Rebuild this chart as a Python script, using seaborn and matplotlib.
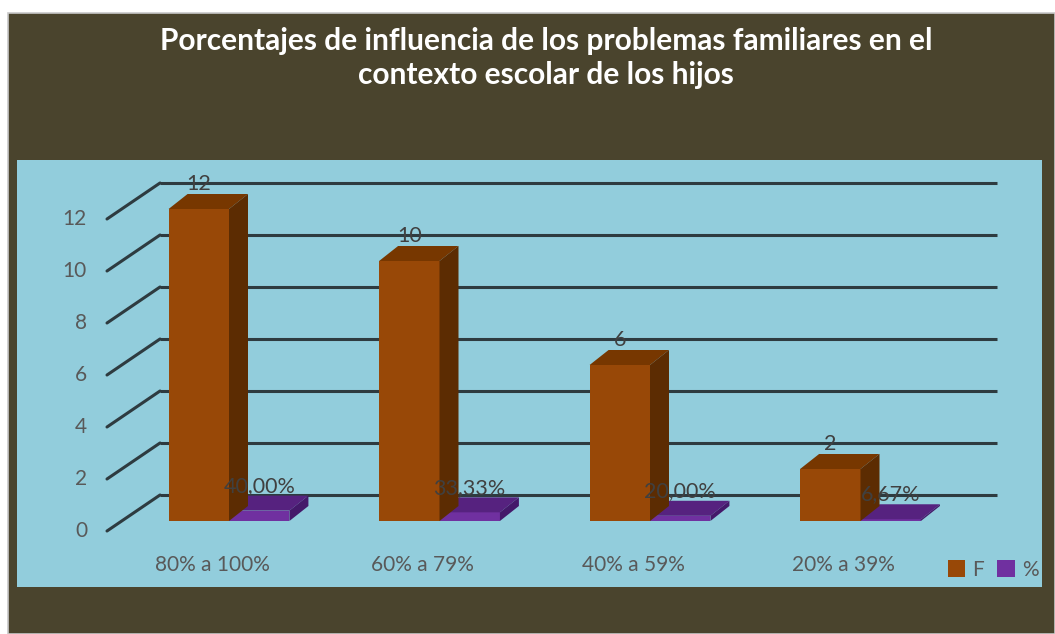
import matplotlib
matplotlib.use("Agg")
import matplotlib.pyplot as plt
from matplotlib.patches import Rectangle, Polygon, Patch
import seaborn as sns
import pandas as pd

# ---- data ----
categories = ["80% a 100%", "60% a 79%", "40% a 59%", "20% a 39%"]
series_names = ["F", "%"]
freq_values = [12, 10, 6, 2]
pct_values = [0.40, 0.3333, 0.20, 0.0667]
pct_labels = ["40,00%", "33,33%", "20,00%", "6,67%"]
y_ticks = [0, 2, 4, 6, 8, 10, 12]
title = "Porcentajes de influencia de los problemas familiares en el\ncontexto escolar de los hijos"

df = pd.DataFrame({
    "Rango": categories * 2,
    "Serie": [series_names[0]] * 4 + [series_names[1]] * 4,
    "Valor": freq_values + pct_values,
})

sns.set_theme(style="white")
plt.rcParams["font.family"] = ["Lato", "DejaVu Sans"]

W, H = 1055, 634
fig = plt.figure(figsize=(W / 100, H / 100), dpi=100, facecolor="white")

# dark outer background
fig.patches.append(Rectangle((8 / W, 0), 1 - 8 / W, 1 - 13 / H, transform=fig.transFigure,
                             facecolor="#4a442d", edgecolor="#c8c8c8", linewidth=1.2, zorder=-5))

# blue panel axes (pixels x 17..1042, y 160..587)
px0, px1, py0, py1 = 17, 1042, 160, 587
ax = fig.add_axes([px0 / W, 1 - py1 / H, (px1 - px0) / W, (py1 - py0) / H], zorder=1)
ax.set_facecolor("#92cddc")

F_FRONT, F_TOP, F_SIDE = "#984807", "#773700", "#5c2c02"
P_FRONT, P_TOP, P_SIDE = "#7030a0", "#56227f", "#44196a"

sns.barplot(data=df, x="Rango", y="Valor", hue="Serie", palette=[F_FRONT, P_FRONT],
            width=0.574, dodge=True, saturation=1, legend=False, ax=ax)

# pixel -> data mapping
XC0, XSTEP = 229.0, 210.5      # x pixel of category 0 centre, spacing
Y0, YSTEP = 521.0, 26.0        # y pixel of value 0 at bar front, px per unit
ax.set_xlim((px0 - XC0) / XSTEP, (px1 - XC0) / XSTEP)
ax.set_ylim((Y0 - py1) / YSTEP, (Y0 - py0) / YSTEP)
ax.set_xticks([]); ax.set_yticks([])
ax.set_xlabel(""); ax.set_ylabel("")
for s in ax.spines.values():
    s.set_visible(False)

def dx(p):
    return p / XSTEP

def dy(p):
    return p / YSTEP

# back wall gridlines and floor/side diagonals
grid_c = "#2e3b40"
x_back_l, x_back_r = dx(160 - XC0), dx(997 - XC0)
x_front_l = dx(107 - XC0)
for v in y_ticks:
    yb = v + 1.0
    yf = v - dy(10)
    ax.plot([x_back_l, x_back_r], [yb, yb], color=grid_c, lw=2.2, zorder=0.5, solid_capstyle="butt")
    ax.plot([x_front_l, x_back_l], [yf, yb], color=grid_c, lw=2.2, zorder=0.5, solid_capstyle="round")
    ax.text(dx(87 - XC0), yf, str(v), ha="right", va="center", fontsize=15, color="#595959")

# 3D faces
DX, DY = dx(19), dy(15)
bars = list(ax.patches)
for p in bars:
    x0, w, h = p.get_x(), p.get_width(), p.get_height()
    is_f = h > 1
    top_c, side_c = (F_TOP, F_SIDE) if is_f else (P_TOP, P_SIDE)
    z = 3 if is_f else 2
    p.set_zorder(z)
    p.set_edgecolor("none")
    ax.add_patch(Polygon([(x0, h), (x0 + w, h), (x0 + w + DX, h + DY), (x0 + DX, h + DY)],
                         closed=True, facecolor=top_c, edgecolor="none", zorder=z))
    ax.add_patch(Polygon([(x0 + w, 0), (x0 + w + DX, DY), (x0 + w + DX, h + DY), (x0 + w, h)],
                         closed=True, facecolor=side_c, edgecolor="none", zorder=z))

# data labels
half = 0.574 / 4
for i, v in enumerate(freq_values):
    ax.text(i - half, v + 0.95, str(v), ha="center", va="center", fontsize=15.5, color="#404040", zorder=5)
for i, (v, lab) in enumerate(zip(pct_values, pct_labels)):
    ax.text(i + half, v + 0.95, lab, ha="center", va="center", fontsize=15.5, color="#404040", zorder=5)

# category labels
for i, c in enumerate(categories):
    ax.text(i + dx(-17), dy(Y0 - 565), c, ha="center", va="center", fontsize=15, color="#595959")

# legend
handles = [Patch(facecolor=F_FRONT, edgecolor="none"), Patch(facecolor=P_FRONT, edgecolor="none")]
leg = ax.legend(handles, series_names, loc="center", bbox_to_anchor=((993 - px0) / (px1 - px0), (py1 - 570) / (py1 - py0)),
                ncol=2, frameon=False, handlelength=0.85, handleheight=0.85, handletextpad=0.35,
                columnspacing=0.6, fontsize=15, borderpad=0.1, borderaxespad=0)
for t in leg.get_texts():
    t.set_color("#595959")

# title
fig.text(546 / W, 1 - 58 / H, title, ha="center", va="center", fontsize=21.5, fontweight="bold",
         color="white", linespacing=1.3)

fig.savefig("out.png", dpi=100, facecolor=fig.get_facecolor())
